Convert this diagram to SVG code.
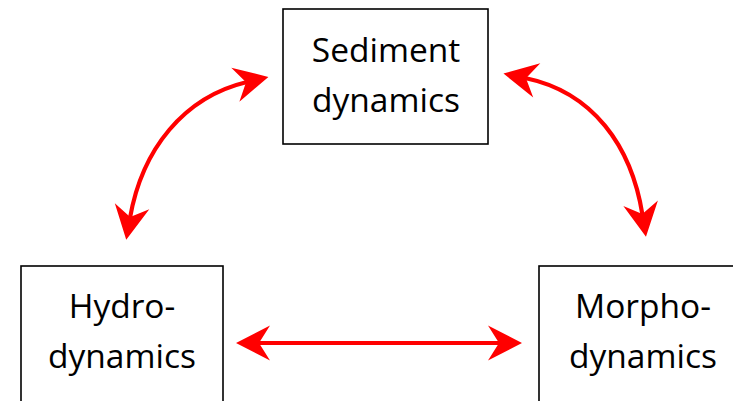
<svg xmlns="http://www.w3.org/2000/svg" width="733" height="401" viewBox="0 0 733 401">
  <style>
    .box { fill: #ffffff; stroke: #000000; stroke-width: 1.6; }
    .label { font-family: "Open Sans", "Liberation Sans", sans-serif; font-size: 33.5px; fill: #000000; text-anchor: middle; }
    .link { fill: none; stroke: #ff0000; stroke-width: 4.2; marker-start: url(#head); marker-end: url(#head); }
  </style>
  <defs>
    <!-- notched arrowhead; reference point sits at the notch so the line ends inside it -->
    <marker id="head" markerUnits="userSpaceOnUse" markerWidth="36" markerHeight="38" viewBox="0 -18 36 36" refX="12" refY="0" orient="auto-start-reverse" overflow="visible">
      <path d="M0,-17.5 L34,0 L0,17.5 L11,0 Z" fill="#ff0000"/>
    </marker>
  </defs>
  <rect width="733" height="401" fill="#ffffff"/>

  <g id="sediment">
    <rect class="box" x="283" y="9" width="205" height="135"/>
    <text class="label" x="386" y="62">Sediment</text>
    <text class="label" x="386" y="112">dynamics</text>
  </g>

  <g id="hydro">
    <rect class="box" x="21" y="266" width="202" height="170"/>
    <text class="label" x="122" y="318">Hydro-</text>
    <text class="label" x="122" y="368">dynamics</text>
  </g>

  <g id="morpho">
    <rect class="box" x="539" y="266" width="208" height="170"/>
    <text class="label" x="643" y="318">Morpho-</text>
    <text class="label" x="643" y="368">dynamics</text>
  </g>

  <g id="connectors">
    <path class="link" d="M130,218 C142,149 184,97 247,82"/>
    <path class="link" d="M525,78 C593,92 631.5,146 642.5,215"/>
    <path class="link" d="M258,343 L500,343"/>
  </g>
</svg>
